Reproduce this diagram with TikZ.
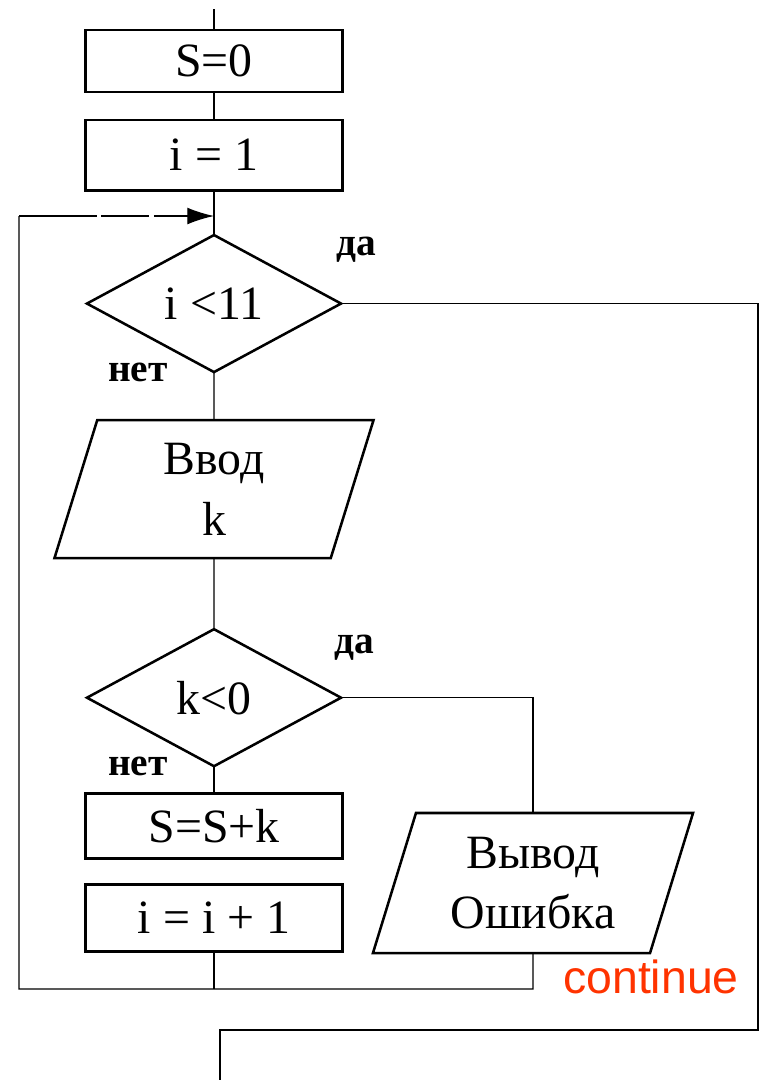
\documentclass[tikz,border=0pt]{standalone}
\usepackage{fontspec}
\setmainfont{Liberation Serif}
\newfontfamily\contfont{Liberation Sans}
\usetikzlibrary{shapes.geometric, positioning, arrows.meta}
\definecolor{contred}{RGB}{255,51,0}

\begin{document}
\begin{tikzpicture}[x=0.025cm, y=-0.025cm,
        every node/.style={inner sep=0pt, outer sep=0pt},
        proc/.style={rectangle, draw, line width=2.1pt,
              minimum width=6.4cm,
              font=\fontsize{34}{44}\selectfont},
        cond/.style={diamond, draw, line width=1.8pt,
              minimum width=6.35cm, minimum height=3.425cm,
              font=\fontsize{34}{44}\selectfont},
        io/.style={trapezium, trapezium left angle=65,
              trapezium right angle=115,
              trapezium stretches body, draw, line width=1.8pt,
              minimum width=7.975cm, minimum height=3.45cm,
              align=center,
              font=\fontsize{34}{43}\selectfont},
        lbl/.style={font=\fontsize{28}{28}\selectfont\bfseries},
        line/.style={line width=0.95pt}]
        \useasboundingbox (0,0) rectangle (761,1080);

        \node[proc, minimum height=1.55cm] (s0) at (214,61) {S=0};
        \node[proc, minimum height=1.75cm,
              below=0.7cm of s0] (i1) {i = 1};
        \node[cond,
              below=1.125cm of i1] (cond1) {i <11};
        \node[io,
              below=1.2cm of cond1] (input) {Ввод\\k};
        \node[cond,
              below=1.775cm of input] (cond2) {k<0};
        \node[proc, minimum height=1.625cm,
              below=0.675cm of cond2] (sum) {S=S+k};
        \node[proc, minimum height=1.675cm,
              below=0.65cm of sum] (inc) {i = i + 1};
        \node[io, minimum width=8cm, minimum height=3.5cm] (out) at (533,883) {Вывод\\Ошибка};

        \node[lbl] (yes1) at (356,250) {да};
        \node[lbl] (no1) at (138,372) {нет};
        \node[lbl] (yes2) at (354,648) {да};
        \node[lbl] (no2) at (138,766) {нет};
        \node[font=\contfont\fontsize{33}{33}\selectfont,
              text=contred] (cont) at (651,977) {continue};

        \coordinate (top) at (214,9);
        \coordinate (ent) at (214,216);
        \coordinate (lt) at (19,216);
        \coordinate (lb) at (19,989);
        \coordinate (rb) at (758,1030);
        \coordinate (eb) at (220,1030);
        \coordinate (exit) at (220,1080);

        % main column
        \draw[line] (top) -- (s0);
        \draw[line] (s0) -- (i1);
        \draw[line] (i1) -- (cond1);
        \draw[line] (cond1) -- (input);
        \draw[line] (input) -- (cond2);
        \draw[line] (cond2) -- (sum);
        % loop back
        \draw[line] (inc) -- (inc |- lb);
        \draw[line] (out) -- (out |- lb) -- (lb) -- (lt);
        \draw[line, dash pattern=on 1.95cm off 0.1cm on 1.2cm off 0.12cm on 3cm,
              -{Latex[length=19pt, width=12pt]}] (lt) -- (ent);
        % branches
        \draw[line] (cond1.east) -| (rb) -- (eb) -- (exit);
        \draw[line] (cond2.east) -| (out.north);
\end{tikzpicture}
\end{document}
